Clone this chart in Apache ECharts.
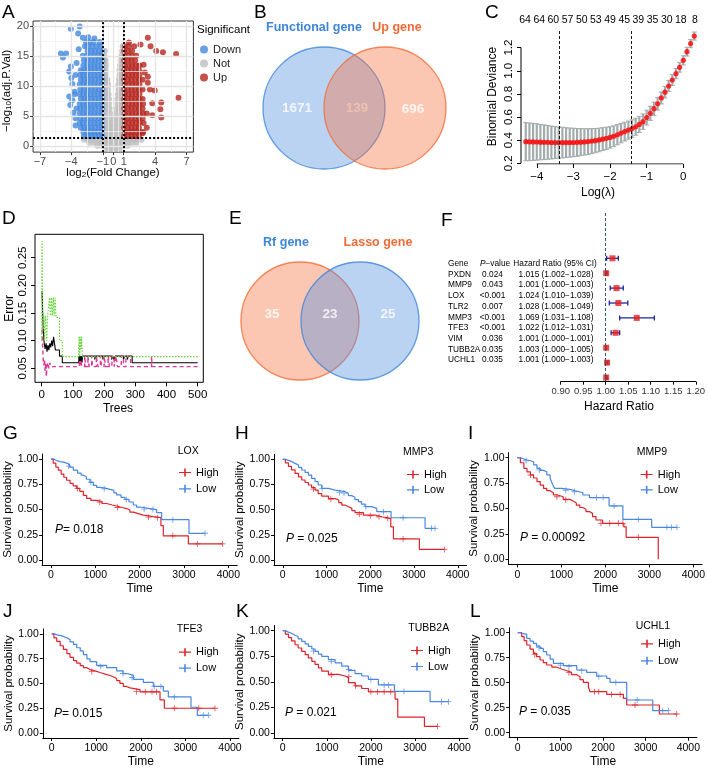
<!DOCTYPE html>
<html><head><meta charset="utf-8">
<script src="https://cdn.jsdelivr.net/npm/echarts@6.0.0/dist/echarts.min.js"></script>
<style>html,body{margin:0;padding:0;background:#fff;}#chart{width:708px;height:769px;}</style>
</head><body><div id="chart"></div>
<script>
/* ================= DATA ================= */
/* A: volcano plot (rows: [-log10 p, [log2FC ...]]) */
const volcanoDownRows = [
 [1.6,[-1.05,-1.4,-1.75,-2.1,-2.45,-2.8]],
 [2.3,[-1.1,-1.45,-1.8,-2.15,-2.5,-2.85]],
 [3.0,[-1.05,-1.4,-1.75,-2.1,-2.45,-2.8,-3.1]],
 [3.8,[-1.1,-1.45,-1.8,-2.15,-2.5,-2.9,-3.2]],
 [4.6,[-1.05,-1.4,-1.75,-2.1,-2.45,-2.8,-3.15,-3.6]],
 [5.4,[-1.1,-1.45,-1.8,-2.15,-2.5,-2.85,-3.2]],
 [6.2,[-1.05,-1.4,-1.75,-2.1,-2.45,-2.8,-3.15,-3.5]],
 [7.0,[-1.1,-1.45,-1.8,-2.15,-2.5,-2.85,-3.2]],
 [7.8,[-1.05,-1.4,-1.75,-2.1,-2.45,-2.8,-3.1]],
 [8.6,[-1.1,-1.45,-1.8,-2.15,-2.5,-2.85,-3.2,-3.7]],
 [9.4,[-1.05,-1.4,-1.75,-2.1,-2.45,-2.8,-3.15]],
 [10.2,[-1.1,-1.45,-1.8,-2.15,-2.5,-2.85,-3.2]],
 [11.0,[-1.05,-1.4,-1.75,-2.1,-2.45,-2.8,-3.1]],
 [11.8,[-1.1,-1.45,-1.8,-2.15,-2.5,-2.85,-3.15]],
 [12.6,[-1.05,-1.4,-1.75,-2.1,-2.45,-2.8,-3.1]],
 [13.4,[-1.1,-1.45,-1.8,-2.15,-2.5,-2.85]],
 [14.2,[-1.05,-1.4,-1.75,-2.1,-2.45,-2.8]],
 [15.0,[-1.1,-1.45,-1.8,-2.15,-2.5,-2.9]],
 [15.8,[-1.05,-1.4,-1.75,-2.1,-2.45]],
 [16.6,[-1.2,-1.6,-2.0,-2.4,-2.7]],
 [17.3,[-1.3,-1.9,-2.3,-2.6]]
];
const volcanoDownExtra = [[-4.05,19.5],[-3.2,19.9],[-3.35,18.7],[-5.0,15.4],[-4.5,15.4],[-4.8,14.7],[-4.05,13.2],[-4.2,12.4],[-4.0,11.3],[-4.2,8.2],[-3.7,9.0],[-3.9,10.3],[-4.1,6.8],[-3.8,5.5],[-3.6,3.4],[-3.9,7.6],[-2.9,18.0],[-2.4,18.1],[-1.8,17.9],[-3.5,13.8],[-3.6,11.8],[-3.3,16.1]];
const volcanoUpRows = [
 [1.6,[1.05,1.4,1.75,2.1,2.45]],
 [2.3,[1.1,1.45,1.8,2.15,2.5,2.85]],
 [3.0,[1.05,1.4,1.75,2.1,2.45]],
 [3.8,[1.1,1.45,1.8,2.15,2.5,2.9]],
 [4.6,[1.05,1.4,1.75,2.1,2.45,2.8]],
 [5.4,[1.1,1.45,1.8,2.15,2.5,2.85,3.2]],
 [6.2,[1.05,1.4,1.75,2.1,2.45,2.8]],
 [7.0,[1.1,1.45,1.8,2.15,2.5,2.85]],
 [7.8,[1.05,1.4,1.75,2.1,2.45,2.8]],
 [8.6,[1.1,1.45,1.8,2.15,2.5]],
 [9.4,[1.05,1.4,1.75,2.1,2.45,2.8]],
 [10.2,[1.1,1.45,1.8,2.15,2.5]],
 [11.0,[1.05,1.4,1.75,2.1,2.45,2.8]],
 [11.8,[1.1,1.45,1.8,2.15,2.5]],
 [12.6,[1.05,1.4,1.75,2.1,2.45]],
 [13.4,[1.1,1.45,1.8,2.15,2.5]],
 [14.2,[1.05,1.4,1.75,2.1]],
 [15.0,[1.1,1.45,1.8,2.2]],
 [15.8,[1.05,1.4,1.8]],
 [16.6,[1.1,1.5,2.0]]
];
const volcanoUpExtra = [[3.3,18.0],[3.56,16.6],[4.1,15.8],[4.74,15.6],[6.0,15.3],[6.23,8.0],[4.58,7.2],[4.5,6.1],[4.58,4.7],[3.73,7.1],[3.73,5.1],[3.96,9.2],[3.5,9.4],[2.9,13.5],[3.0,12.2],[3.3,10.5],[3.2,3.0],[2.8,2.1],[2.6,16.9],[1.5,17.2],[3.3,11.5]];
const volcanoNotRows = [
 [-0.5,[-0.6,-0.3,0,0.3,0.6]],
 [0.0,[-1.5,-1.1,-0.8,-0.5,-0.2,0.1,0.4,0.7,1.0,1.4]],
 [0.5,[-2.3,-1.9,-1.5,-1.1,-0.8,-0.5,-0.2,0.1,0.4,0.7,1.0,1.4,1.8,2.2]],
 [1.0,[-2.8,-2.4,-2.0,-1.6,-1.2,-0.9,-0.6,-0.3,0,0.3,0.6,0.9,1.2,1.6,2.0,2.4,2.7]],
 [1.6,[-0.9,-0.6,-0.3,0,0.3,0.6,0.9]],
 [2.3,[-0.9,-0.6,-0.3,0,0.3,0.6,0.9]],
 [3.0,[-0.9,-0.6,-0.3,0,0.3,0.6,0.9]],
 [3.8,[-0.9,-0.6,-0.3,0,0.3,0.6,0.9]],
 [4.6,[-0.9,-0.6,-0.3,0.05,0.3,0.6,0.9]],
 [5.4,[-0.9,-0.6,-0.3,0.3,0.6,0.9]],
 [6.2,[-0.9,-0.6,-0.35,0.35,0.6,0.9]],
 [7.0,[-0.9,-0.65,-0.4,0.4,0.65,0.9]],
 [7.8,[-0.9,-0.65,-0.4,0.4,0.65,0.9]],
 [8.6,[-0.9,-0.65,-0.45,0.45,0.65,0.9]],
 [9.4,[-0.9,-0.7,-0.5,0.5,0.7,0.9]],
 [10.2,[-0.9,-0.7,-0.5,0.5,0.7,0.9]],
 [11.0,[-0.9,-0.7,-0.55,0.55,0.7,0.9]],
 [11.8,[-0.9,-0.7,0.6,0.8]],
 [12.6,[-0.9,-0.7,0.6,0.85]],
 [13.4,[-0.85,-0.65,0.65,0.85]],
 [14.2,[-0.85,-0.7,0.7,0.9]],
 [15.0,[-0.85,0.8]],
 [15.8,[-0.8,0.85]],
 [16.6,[0.9]]
];
const volcanoXTicks = [-7,-4,-1,0,1,4,7];
const volcanoXMinor = [-5.5,-2.5,-0.5,0.5,2.5,5.5];
const volcanoYTicks = [0,5,10,15,20];
const volcanoYMinor = [2.5,7.5,12.5,17.5];
const volcanoFcCut = [-1,1];
const volcanoPCut = 1.3;

/* B / E: Venn */
const vennBSets = ['Functional gene','Up gene'];
const vennBCounts = [1671,139,696];
const vennESets = ['Rf gene','Lasso gene'];
const vennECounts = [35,23,25];

/* C: LASSO cross-validation */
const lassoLogLambda = [-4.3,-4.2,-4.1,-4.0,-3.9,-3.8,-3.7,-3.6,-3.5,-3.4,-3.3,-3.2,-3.1,-3.0,-2.9,-2.8,-2.7,-2.6,-2.5,-2.4,-2.3,-2.2,-2.1,-2.0,-1.9,-1.8,-1.7,-1.6,-1.5,-1.4,-1.3,-1.2,-1.1,-1.0,-0.9,-0.8,-0.7,-0.6,-0.5,-0.4,-0.3,-0.2,-0.1,0.0,0.1,0.2,0.3];
const lassoMean = [0.387,0.386,0.385,0.384,0.383,0.382,0.381,0.380,0.379,0.379,0.379,0.379,0.379,0.380,0.381,0.383,0.385,0.388,0.392,0.396,0.402,0.409,0.416,0.424,0.434,0.447,0.461,0.474,0.487,0.500,0.516,0.536,0.560,0.595,0.632,0.672,0.715,0.765,0.815,0.868,0.920,0.975,1.030,1.090,1.165,1.235,1.300];
const lassoSE = [0.165,0.163,0.160,0.157,0.153,0.150,0.146,0.142,0.138,0.135,0.132,0.129,0.126,0.123,0.120,0.117,0.114,0.111,0.108,0.105,0.102,0.099,0.096,0.093,0.090,0.087,0.084,0.081,0.078,0.076,0.073,0.070,0.067,0.064,0.061,0.058,0.055,0.052,0.050,0.048,0.046,0.044,0.042,0.040,0.038,0.036,0.035];
const lassoTopPos = [-4.32,-3.93,-3.55,-3.16,-2.77,-2.39,-2.00,-1.61,-1.23,-0.84,-0.45,-0.07,0.32];
const lassoTopNz = [64,64,60,57,50,53,49,45,39,35,30,18,8];
const lassoVLines = [-3.38,-1.41];
const lassoXTicks = [-4,-3,-2,-1,0];
const lassoYTicks = [0.2,0.4,0.6,0.8,1.0,1.2];

/* D: random forest error vs trees */
const rfOOB = [[1,0.19],[3,0.15],[5,0.12],[8,0.095],[11,0.085],[14,0.095],[17,0.08],[20,0.092],[23,0.083],[26,0.095],[29,0.088],[32,0.1],[35,0.09],[38,0.107],[41,0.095],[44,0.083],[57,0.072],[66,0.06],[119,0.072],[121,0.06],[123,0.072],[125,0.06],[127,0.072],[129,0.06],[131,0.072],[170,0.066],[172,0.072],[196,0.066],[198,0.072],[224,0.066],[228,0.072],[232,0.066],[236,0.072],[262,0.066],[266,0.072],[274,0.066],[278,0.072],[290,0.06],[500,0.06]];
const rfClass1 = [[1,0.12],[3,0.09],[5,0.065],[7,0.055],[9,0.065],[11,0.045],[13,0.06],[15,0.035],[17,0.055],[20,0.06],[23,0.05],[26,0.06],[30,0.053],[120,0.053],[122,0.065],[124,0.053],[126,0.065],[128,0.053],[138,0.072],[141,0.053],[148,0.072],[152,0.053],[160,0.072],[163,0.053],[175,0.072],[180,0.053],[188,0.072],[192,0.053],[200,0.072],[205,0.053],[213,0.072],[217,0.053],[225,0.072],[232,0.053],[238,0.072],[243,0.053],[255,0.072],[262,0.053],[270,0.072],[285,0.053],[352,0.072],[354,0.053],[500,0.053]];
const rfClass2 = [[0,0.1],[1,0.28],[3,0.15],[5,0.12],[7,0.145],[9,0.1],[12,0.145],[16,0.1],[19,0.145],[25,0.178],[28,0.145],[31,0.178],[34,0.145],[37,0.178],[40,0.145],[43,0.178],[46,0.142],[57,0.1],[66,0.071],[118,0.071],[120,0.107],[122,0.071],[124,0.107],[126,0.085],[128,0.107],[130,0.071],[500,0.071]];
const rfXTicks = [0,100,200,300,400,500];
const rfYTicks = [0.05,0.10,0.15,0.20,0.25];

/* F: forest plot */
const forestGenes = ['PXDN','MMP9','LOX','TLR2','MMP3','TFE3','VIM','TUBB2A','UCHL1'];
const forestP = ['0.024','0.043','<0.001','0.007','<0.001','<0.001','0.036','0.035','0.035'];
const forestHR = [1.015,1.001,1.024,1.028,1.069,1.022,1.001,1.003,1.001];
const forestLo = [1.002,1.000,1.010,1.008,1.031,1.012,1.000,1.000,1.000];
const forestHi = [1.028,1.003,1.039,1.049,1.108,1.031,1.001,1.005,1.003];

/* G-L: Kaplan-Meier curves [time, survival] */
const kmGenes = ['LOX','MMP3','MMP9','TFE3','TUBB2A','UCHL1'];
const kmP = ['0.018','0.025','0.00092','0.015','0.021','0.035'];
const kmLOXHigh = [[0,1],[50,0.96],[110,0.92],[165,0.89],[230,0.85],[290,0.82],[353,0.79],[430,0.76],[500,0.735],[579,0.71],[650,0.68],[730,0.64],[805,0.61],[900,0.59],[1030,0.58],[1150,0.56],[1256,0.545],[1380,0.535],[1481,0.52],[1600,0.51],[1707,0.495],[1780,0.475],[1857,0.46],[1970,0.445],[2083,0.43],[2308,0.42],[2480,0.34],[2534,0.24],[3098,0.16],[3872,0.16]];
const kmLOXLow = [[0,1],[60,0.985],[130,0.975],[203,0.97],[280,0.96],[353,0.945],[420,0.92],[504,0.89],[600,0.86],[680,0.84],[729,0.825],[800,0.8],[880,0.77],[955,0.74],[1030,0.72],[1105,0.71],[1250,0.7],[1331,0.69],[1420,0.665],[1481,0.645],[1580,0.62],[1669,0.6],[1760,0.575],[1857,0.545],[1930,0.525],[2008,0.51],[2233,0.5],[2383,0.47],[2496,0.40],[3113,0.265],[3474,0.265]];
const kmLOXHighCens = [[600,0.71],[1100,0.575],[1500,0.52],[2200,0.425],[2400,0.42],[2750,0.24],[3300,0.16],[3872,0.16]];
const kmLOXLowCens = [[400,0.93],[900,0.77],[1200,0.705],[1700,0.6],[2100,0.505],[2300,0.5],[2750,0.4],[3474,0.265]];
const kmMMP3High = [[0,1],[60,0.965],[130,0.93],[200,0.895],[282,0.86],[360,0.825],[434,0.795],[510,0.77],[587,0.745],[660,0.72],[739,0.695],[810,0.66],[891,0.635],[1044,0.61],[1196,0.596],[1280,0.57],[1349,0.546],[1420,0.53],[1501,0.513],[1580,0.49],[1653,0.47],[1844,0.447],[2110,0.43],[2263,0.414],[2469,0.33],[2530,0.21],[3124,0.106],[3695,0.106]];
const kmMMP3Low = [[0,1],[70,0.99],[130,0.977],[210,0.96],[282,0.944],[360,0.92],[434,0.894],[510,0.87],[587,0.844],[660,0.81],[739,0.778],[810,0.745],[891,0.712],[1044,0.695],[1196,0.679],[1425,0.662],[1500,0.64],[1577,0.623],[1650,0.6],[1730,0.58],[1800,0.555],[1882,0.53],[2034,0.513],[2149,0.48],[2476,0.42],[3253,0.315],[3482,0.315]];
const kmMMP3HighCens = [[700,0.705],[1100,0.605],[1750,0.455],[2000,0.44],[2200,0.43],[2400,0.414],[2750,0.21],[3695,0.106]];
const kmMMP3LowCens = [[900,0.712],[1300,0.67],[1400,0.665],[1900,0.53],[2300,0.48],[2750,0.42],[3400,0.315],[3482,0.315]];
const kmMMP9High = [[0,1],[70,0.95],[149,0.895],[220,0.86],[298,0.83],[370,0.8],[447,0.764],[520,0.73],[596,0.698],[670,0.675],[745,0.656],[820,0.635],[894,0.616],[1043,0.59],[1192,0.574],[1270,0.555],[1341,0.534],[1420,0.51],[1490,0.492],[1560,0.47],[1639,0.452],[1710,0.42],[1788,0.387],[1937,0.354],[2421,0.32],[2473,0.216],[3203,0]];
const kmMMP9Low = [[0,1],[70,0.985],[160,0.977],[230,0.97],[298,0.96],[370,0.93],[447,0.895],[520,0.875],[596,0.862],[670,0.83],[745,0.797],[780,0.76],[819,0.72],[850,0.698],[1000,0.688],[1192,0.672],[1340,0.655],[1490,0.633],[1639,0.607],[2086,0.525],[2399,0.393],[3054,0.315],[3628,0.315]];
const kmMMP9HighCens = [[300,0.83],[900,0.616],[1100,0.585],[1900,0.354],[2100,0.354],[2300,0.354],[2400,0.354],[2750,0.216]];
const kmMMP9LowCens = [[200,0.97],[500,0.88],[1100,0.68],[1300,0.665],[1800,0.607],[1950,0.607],[2200,0.525],[2750,0.393],[3400,0.315],[3500,0.315],[3628,0.315]];
const kmTFE3High = [[0,1],[50,0.96],[112,0.925],[190,0.88],[262,0.844],[340,0.8],[411,0.763],[490,0.73],[561,0.705],[640,0.68],[710,0.659],[790,0.64],[860,0.627],[970,0.61],[1084,0.594],[1200,0.58],[1308,0.568],[1380,0.55],[1458,0.529],[1530,0.5],[1607,0.47],[1680,0.455],[1757,0.438],[1981,0.416],[2430,0.334],[2527,0.25],[3664,0.25]];
const kmTFE3Low = [[0,1],[60,0.99],[112,0.985],[190,0.974],[262,0.96],[340,0.942],[411,0.92],[490,0.893],[561,0.86],[640,0.828],[710,0.79],[790,0.747],[860,0.72],[1009,0.682],[1234,0.659],[1458,0.627],[1600,0.6],[1682,0.584],[1832,0.542],[2056,0.51],[2280,0.47],[2505,0.422],[2617,0.364],[3125,0.26],[3267,0.179],[3514,0.179]];
const kmTFE3HighCens = [[900,0.62],[1900,0.42],[2100,0.416],[2250,0.416],[2350,0.416],[2750,0.25],[3300,0.25],[3664,0.25]];
const kmTFE3LowCens = [[1100,0.67],[1600,0.6],[1800,0.56],[2300,0.47],[2450,0.47],[2750,0.364],[3400,0.179],[3514,0.179]];
const kmTUBB2AHigh = [[0,1],[60,0.965],[129,0.932],[200,0.9],[280,0.862],[350,0.83],[431,0.797],[510,0.765],[582,0.733],[660,0.7],[733,0.669],[810,0.635],[885,0.604],[1036,0.572],[1263,0.556],[1414,0.54],[1490,0.492],[1641,0.46],[1792,0.434],[1943,0.402],[2548,0.331],[2609,0.154],[3214,0.064],[3509,0.064]];
const kmTUBB2ALow = [[0,1],[70,0.985],[129,0.974],[200,0.955],[280,0.942],[350,0.92],[431,0.894],[510,0.87],[582,0.846],[660,0.82],[733,0.797],[810,0.77],[885,0.749],[1036,0.717],[1187,0.685],[1338,0.653],[1490,0.611],[1641,0.579],[1792,0.556],[1943,0.524],[2170,0.469],[2533,0.405],[3342,0.305],[3758,0.305]];
const kmTUBB2AHighCens = [[1100,0.565],[1500,0.55],[1650,0.46],[2000,0.402],[2150,0.402],[2300,0.402],[2450,0.402],[3509,0.064]];
const kmTUBB2ALowCens = [[700,0.8],[1100,0.7],[1500,0.62],[2000,0.52],[2300,0.469],[2400,0.469],[2750,0.405],[3600,0.305],[3758,0.305]];
const kmUCHL1High = [[0,1],[94,0.96],[150,0.92],[211,0.877],[290,0.835],[367,0.793],[440,0.76],[523,0.727],[600,0.7],[680,0.677],[800,0.655],[914,0.637],[1030,0.62],[1148,0.603],[1260,0.58],[1383,0.56],[1460,0.53],[1539,0.503],[1656,0.46],[1695,0.41],[2086,0.383],[2477,0.343],[2555,0.277],[3320,0.187],[3727,0.187]];
const kmUCHL1Low = [[0,1],[60,0.99],[130,0.983],[211,0.943],[290,0.915],[367,0.893],[440,0.865],[523,0.843],[600,0.81],[680,0.777],[760,0.735],[836,0.693],[1070,0.67],[1383,0.627],[1617,0.603],[1852,0.567],[2086,0.543],[2164,0.503],[2555,0.327],[3164,0.22],[3531,0.22]];
const kmUCHL1HighCens = [[400,0.78],[1200,0.6],[1800,0.41],[1900,0.41],[2200,0.383],[2400,0.383],[2750,0.277],[3727,0.187]];
const kmUCHL1LowCens = [[500,0.85],[1000,0.675],[1200,0.66],[1500,0.62],[1900,0.56],[2300,0.503],[2800,0.327],[3400,0.22],[3531,0.22]];
const kmXTicks = [0,1000,2000,3000,4000];
const kmYTicks = [0,0.25,0.5,0.75,1];

/* ================= BUILD ================= */
const FONT = '"Liberation Sans", Arial, Helvetica, sans-serif';
const grids = [], xAxes = [], yAxes = [], series = [], graphics = [], legends = [];
function fixAxis(a) {
  a.axisLine = Object.assign({show:false}, a.axisLine || {}, {onZero:false});
  return a;
}
function cart(g, x, y) {
  const gi = grids.length;
  grids.push(Object.assign({show:false}, g));
  xAxes.push(fixAxis(Object.assign({gridIndex: gi, type:'value', position:'bottom', splitLine:{show:false}}, x)));
  yAxes.push(fixAxis(Object.assign({gridIndex: gi, type:'value', position:'left', splitLine:{show:false}}, y)));
  return {x: xAxes.length - 1, y: yAxes.length - 1, g: gi};
}
function txt(x, y, text, st, extra) {
  graphics.push(Object.assign({type:'text', x:x, y:y, silent:true,
    style:Object.assign({text:text, fill:'#000', fontFamily:FONT, fontSize:11, textAlign:'left', textVerticalAlign:'middle'}, st || {})}, extra || {}));
}
function rows(r){ const o=[]; r.forEach(function(q){ q[1].forEach(function(x){ o.push([x,q[0]]); }); }); return o; }
const minus = function(v){ return v < 0 ? '\u2212' + Math.abs(v) : String(v); };
const plain = function(v){ return String(v); };
const hidden = {show:false};
function segment(c, pts) {
  series.push({type:'line', name:'axisSeg'+series.length, xAxisIndex:c.x, yAxisIndex:c.y, data:pts, symbol:'none', silent:true, z:6,
    lineStyle:{color:'#000', width:1}});
}

/* ---------- A ---------- */
(function(){
  const c = cart({left:33.1, top:21, width:160.3, height:131.1, show:true, borderColor:'#333', borderWidth:1},
    {min:-7.65, max:7.65, axisTick:{show:true, length:3, lineStyle:{color:'#333'}, customValues:volcanoXTicks},
     axisLabel:{customValues:volcanoXTicks, formatter:minus, color:'#4d4d4d', fontSize:11, margin:4}},
    {min:-1.05, max:20.8, axisTick:{show:true, length:3, lineStyle:{color:'#333'}, customValues:volcanoYTicks},
     axisLabel:{customValues:volcanoYTicks, formatter:plain, color:'#4d4d4d', fontSize:11, margin:4}});
  const gl = [];
  volcanoXTicks.forEach(function(v){ gl.push({xAxis:v, lineStyle:{color:'#e4e4e4', width:1.3, type:'solid'}}); });
  volcanoXMinor.forEach(function(v){ gl.push({xAxis:v, lineStyle:{color:'#efefef', width:0.7, type:'solid'}}); });
  volcanoYTicks.forEach(function(v){ gl.push({yAxis:v, lineStyle:{color:'#e4e4e4', width:1.3, type:'solid'}}); });
  volcanoYMinor.forEach(function(v){ gl.push({yAxis:v, lineStyle:{color:'#efefef', width:0.7, type:'solid'}}); });
  series.push({type:'scatter', name:'gridA', xAxisIndex:c.x, yAxisIndex:c.y, data:[[0,-5]], symbolSize:0, silent:true, z:1,
    markLine:{silent:true, symbol:['none','none'], label:{show:false}, data:gl, animation:false}});
  series.push({type:'scatter', name:'Not', xAxisIndex:c.x, yAxisIndex:c.y, data:rows(volcanoNotRows), symbolSize:6, itemStyle:{color:'#bebebe'}, z:2});
  series.push({type:'scatter', name:'Down', xAxisIndex:c.x, yAxisIndex:c.y, data:rows(volcanoDownRows).concat(volcanoDownExtra), symbolSize:6, itemStyle:{color:'#4388de'}, z:3});
  series.push({type:'scatter', name:'Up', xAxisIndex:c.x, yAxisIndex:c.y, data:rows(volcanoUpRows).concat(volcanoUpExtra), symbolSize:6, itemStyle:{color:'#b5261e'}, z:3});
  const cut = volcanoFcCut.map(function(v){ return {xAxis:v}; }).concat([{yAxis:volcanoPCut}]);
  series.push({type:'scatter', name:'cutA', xAxisIndex:c.x, yAxisIndex:c.y, data:[[0,-5]], symbolSize:0, silent:true, z:6,
    markLine:{silent:true, symbol:['none','none'], label:{show:false}, lineStyle:{color:'#000', width:2, type:[2,2]}, data:cut, animation:false}});
  txt(113, 173, 'log{s|2}(Fold Change)', {textAlign:'center', fontSize:11.5, fill:'#000', rich:{s:{fontSize:8, fontFamily:FONT, padding:[3,0,0,0]}}});
  // rotated y title, anchored at its start (bottom end)
  txt(7, 132, '\u2212log{s|10}(adj.P.Val)', {textAlign:'left', fontSize:11.5, rich:{s:{fontSize:8, fontFamily:FONT, padding:[3,0,0,0]}}}, {rotation:Math.PI/2});
  txt(197, 30, 'Significant', {fontSize:11.5});
  legends.push({left:195, top:39, orient:'vertical', itemWidth:8, itemHeight:12, itemGap:3, selectedMode:false,
    data:[{name:'Down', icon:'circle'},{name:'Not', icon:'circle'},{name:'Up', icon:'circle'}],
    textStyle:{fontSize:11, color:'#222', fontFamily:FONT}});
})();

/* ---------- Venn helper ---------- */
function venn(gLeft, gTop, circles, counts, labelPos, labelColors, titles, titlePos, titleColors) {
  const c = cart({left:gLeft, top:gTop, width:240, height:200},
    {min:0, max:240, show:false}, {min:0, max:200, inverse:true, show:false});
  circles.forEach(function(cc, i){
    series.push({type:'scatter', name:'venn'+gLeft+'_'+gTop+'_'+i, xAxisIndex:c.x, yAxisIndex:c.y, silent:true, z:2+i,
      data:[[cc.x, cc.y]], symbol:'circle', symbolSize:cc.d,
      itemStyle:{color:cc.fill, borderColor:cc.stroke, borderWidth:1.3}});
  });
  series.push({type:'scatter', name:'vennLab'+gLeft+'_'+gTop, xAxisIndex:c.x, yAxisIndex:c.y, silent:true, z:10, symbolSize:0,
    data:counts.map(function(n, i){ return {value:labelPos[i], label:{show:true, position:'inside', formatter:String(n),
      color:labelColors[i], fontSize:13.5, fontWeight:'bold', fontFamily:FONT}}; })});
  titles.forEach(function(t, i){ txt(gLeft + titlePos[i][0], gTop + titlePos[i][1], t, {textAlign:'center', fontSize:12.5, fontWeight:'bold', fill:titleColors[i]}); });
}
const BLUE_V = 'rgba(85,145,225,0.5)', ORANGE_V = 'rgba(245,115,65,0.5)', BLUE_S = '#3d85d8', ORANGE_S = '#f26b36';
venn(230, 0,
  [{x:94, y:108, d:122, fill:BLUE_V, stroke:BLUE_S}, {x:155, y:108, d:122, fill:ORANGE_V, stroke:ORANGE_S}],
  vennBCounts, [[67,108],[127,108],[183,109]], ['#fff','#f6c6b2','#fff'],
  vennBSets, [[84,28],[167,28]], [BLUE_S, ORANGE_S]);
venn(230, 205,
  [{x:70, y:116, d:118, fill:ORANGE_V, stroke:ORANGE_S}, {x:130, y:116, d:118, fill:BLUE_V, stroke:BLUE_S}],
  vennECounts, [[42,109],[100,109],[158,109]], ['#fff','#fff','#fff'],
  vennESets, [[56,38],[148,38]], [BLUE_S, ORANGE_S]);

/* ---------- C: LASSO ---------- */
(function(){
  const c = cart({left:521, top:29, width:181, height:135},
    {min:-4.43, max:0.51, axisTick:{show:true, length:4, lineStyle:{color:'#000'}, customValues:lassoXTicks},
     axisLabel:{customValues:lassoXTicks, formatter:minus, color:'#000', fontSize:11.5, margin:7}},
    {min:0.194, max:1.361, axisTick:{show:true, length:4, lineStyle:{color:'#000'}, customValues:lassoYTicks},
     axisLabel:{customValues:lassoYTicks, formatter:function(v){return v.toFixed(1);}, rotate:90, color:'#000', fontSize:11.5, margin:6},
     name:'Binomial Deviance', nameLocation:'middle', nameGap:22, nameTextStyle:{fontSize:12, color:'#000', fontFamily:FONT}});
  xAxes.push(fixAxis({gridIndex:c.g, type:'value', position:'top', min:-4.43, max:0.51, axisTick:hidden, splitLine:hidden,
    axisLabel:{customValues:lassoTopPos, color:'#000', fontSize:10.5, margin:3, formatter:function(v){
      let bi=0, bd=1e9; lassoTopPos.forEach(function(p,i){ const d=Math.abs(p-v); if(d<bd){bd=d;bi=i;} }); return String(lassoTopNz[bi]); }}}));
  const eb = lassoLogLambda.map(function(l,i){ return [l, lassoMean[i]-lassoSE[i], lassoMean[i]+lassoSE[i]]; });
  series.push({type:'custom', name:'lassoSE', xAxisIndex:c.x, yAxisIndex:c.y, silent:true, z:2, data:eb, encode:{x:0, y:[1,2]},
    renderItem:function(p, api){
      const a = api.coord([api.value(0), api.value(1)]), b = api.coord([api.value(0), api.value(2)]);
      const st = {stroke:'#a3acac', lineWidth:2.2};
      return {type:'group', children:[
        {type:'line', shape:{x1:a[0], y1:a[1], x2:b[0], y2:b[1]}, style:st},
        {type:'line', shape:{x1:a[0]-2.5, y1:a[1], x2:a[0]+2.5, y2:a[1]}, style:{stroke:'#a3acac', lineWidth:1}},
        {type:'line', shape:{x1:b[0]-2.5, y1:b[1], x2:b[0]+2.5, y2:b[1]}, style:{stroke:'#a3acac', lineWidth:1}}]};
    }});
  series.push({type:'scatter', name:'lassoMean', xAxisIndex:c.x, yAxisIndex:c.y, silent:true, z:4, symbolSize:5.2,
    data:lassoLogLambda.map(function(l,i){ return [l, lassoMean[i]]; }), itemStyle:{color:'#ff0000'},
    markLine:{silent:true, symbol:['none','none'], label:{show:false}, animation:false,
      data:lassoVLines.map(function(v){ return {xAxis:v, lineStyle:{color:'#000', width:0.9, type:[3,2]}}; })}});
  segment(c, [[lassoXTicks[0],0.194],[lassoXTicks[lassoXTicks.length-1],0.194]]);
  segment(c, [[-4.43,lassoYTicks[0]],[-4.43,lassoYTicks[lassoYTicks.length-1]]]);
  txt(598, 193, 'Log(\u03bb)', {textAlign:'center', fontSize:12});
})();

/* ---------- D: random forest ---------- */
(function(){
  const c = cart({left:35, top:234.3, width:168.3, height:148, show:true, borderColor:'#000', borderWidth:1},
    {min:-21.5, max:518, axisTick:{show:true, length:4, lineStyle:{color:'#000'}, customValues:rfXTicks},
     axisLabel:{customValues:rfXTicks, formatter:plain, color:'#000', fontSize:11.5, margin:7}},
    {min:0.0247, max:0.2923, axisTick:{show:true, length:4, lineStyle:{color:'#000'}, customValues:rfYTicks},
     axisLabel:{customValues:rfYTicks, rotate:90, formatter:function(v){return v.toFixed(2);}, color:'#000', fontSize:11.5, margin:6},
     name:'Error', nameLocation:'middle', nameGap:19, nameTextStyle:{fontSize:12, color:'#000', fontFamily:FONT}});
  series.push({type:'line', name:'rfOOB', xAxisIndex:c.x, yAxisIndex:c.y, data:rfOOB, step:'end', symbol:'none', silent:true, z:3, lineStyle:{color:'#000', width:1.1}});
  series.push({type:'line', name:'rfC1', xAxisIndex:c.x, yAxisIndex:c.y, data:rfClass1, step:'end', symbol:'none', silent:true, z:4, lineStyle:{color:'#e0389a', width:1.4, type:[4,3]}});
  series.push({type:'line', name:'rfC2', xAxisIndex:c.x, yAxisIndex:c.y, data:rfClass2, step:'end', symbol:'none', silent:true, z:5, lineStyle:{color:'#6bd63c', width:1.2, type:[1.5,1.5]}});
  txt(118, 409, 'Trees', {textAlign:'center', fontSize:12});
})();

/* ---------- F: forest plot ---------- */
(function(){
  const c = cart({left:560.7, top:213, width:142, height:168.7},
    {min:0.9, max:1.2, interval:0.05, axisLine:{show:true, lineStyle:{color:'#000', width:1}},
     axisTick:{show:true, length:3, lineStyle:{color:'#000'}},
     axisLabel:{formatter:function(v){return v.toFixed(2);}, color:'#333', fontSize:9.5, margin:5}},
    {min:-2.04, max:9.28, inverse:true, show:false});
  series.push({type:'custom', name:'forestCI', xAxisIndex:c.x, yAxisIndex:c.y, silent:true, z:3,
    data:forestHR.map(function(h,i){ return [forestLo[i], forestHi[i], i+1]; }), encode:{x:[0,1], y:2},
    renderItem:function(p, api){
      const a = api.coord([api.value(0), api.value(2)]), b = api.coord([api.value(1), api.value(2)]);
      const st = {stroke:'#1f23a0', lineWidth:1.3};
      return {type:'group', children:[
        {type:'line', shape:{x1:a[0], y1:a[1], x2:b[0], y2:b[1]}, style:st},
        {type:'line', shape:{x1:a[0], y1:a[1]-2.5, x2:a[0], y2:a[1]+2.5}, style:st},
        {type:'line', shape:{x1:b[0], y1:b[1]-2.5, x2:b[0], y2:b[1]+2.5}, style:st}]};
    }});
  series.push({type:'scatter', name:'forestHR', xAxisIndex:c.x, yAxisIndex:c.y, silent:true, z:4, symbol:'rect', symbolSize:6,
    data:forestHR.map(function(h,i){ return [h, i+1]; }), itemStyle:{color:'#e3211c'},
    markLine:{silent:true, symbol:['none','none'], label:{show:false}, animation:false,
      lineStyle:{color:'#2f5d62', width:1, type:[3,2]}, data:[{xAxis:1}]}});
  txt(619, 407, 'Hazard Ratio', {textAlign:'center', fontSize:12});
  const fs = 8.3;
  txt(448, 263.7, 'Gene', {fontSize:fs});
  txt(495, 263.7, '{i|P}\u2212value', {fontSize:fs, textAlign:'center', rich:{i:{fontStyle:'italic', fontSize:fs, fontFamily:FONT}}});
  txt(555, 263.7, 'Hazard Ratio (95% CI)', {fontSize:fs, textAlign:'center'});
  forestGenes.forEach(function(g, i){
    const y = 274.3 + i*10.73;
    txt(448, y, g, {fontSize:fs});
    txt(492.5, y, forestP[i], {fontSize:fs, textAlign:'center'});
    txt(556, y, forestHR[i].toFixed(3)+' ('+forestLo[i].toFixed(3)+'\u2212'+forestHi[i].toFixed(3)+')', {fontSize:fs, textAlign:'center'});
  });
})();

/* ---------- G-L: Kaplan-Meier ---------- */
const RED_KM = '#e0232b', BLUE_KM = '#4a86e3';
const PLUS = 'path://M0,4.3H10V5.7H0Z M4.3,0H5.7V10H4.3Z';
const LEG_ICON = 'path://M0,4.4H12V5.6H0Z M5.2,1H6.8V9H5.2Z';
const kmHigh = [kmLOXHigh, kmMMP3High, kmMMP9High, kmTFE3High, kmTUBB2AHigh, kmUCHL1High];
const kmLow = [kmLOXLow, kmMMP3Low, kmMMP9Low, kmTFE3Low, kmTUBB2ALow, kmUCHL1Low];
const kmHighCens = [kmLOXHighCens, kmMMP3HighCens, kmMMP9HighCens, kmTFE3HighCens, kmTUBB2AHighCens, kmUCHL1HighCens];
const kmLowCens = [kmLOXLowCens, kmMMP3LowCens, kmMMP9LowCens, kmTFE3LowCens, kmTUBB2ALowCens, kmUCHL1LowCens];
const kmLayout = [
  {left:42.1, top:454, w:195.1, h:111.1, tx:177.7, ty:451, lx:174, ly:462, gap:5.3, px:55, py:530, sep:'= '},
  {left:274, top:454.3, w:192.5, h:110.8, tx:403, ty:452.3, lx:402, ly:464, gap:4.3, px:286, py:539, sep:' = '},
  {left:508.5, top:452.6, w:195.4, h:111.8, tx:636.7, ty:452.3, lx:635.7, ly:464, gap:4.3, px:520, py:538, sep:' = '},
  {left:42.8, top:628.9, w:196.1, h:113, tx:176.7, ty:629.3, lx:174, ly:641.7, gap:5, px:54, py:714, sep:'= '},
  {left:273.9, top:625.5, w:194, h:114, tx:408.3, ty:628.3, lx:406, ly:640, gap:5, px:285, py:713, sep:' = '},
  {left:509.2, top:627.7, w:187.7, h:110, tx:635.7, ty:625.7, lx:636, ly:633.3, gap:6, px:519, py:712, sep:' = '}
];
kmGenes.forEach(function(gene, k){
  const L = kmLayout[k];
  const c = cart({left:L.left, top:L.top, width:L.w, height:L.h},
    {min:-200, max:4200, axisLine:{show:true, lineStyle:{color:'#000', width:1}},
     axisTick:{show:true, length:3, lineStyle:{color:'#000'}, customValues:kmXTicks},
     axisLabel:{customValues:kmXTicks, formatter:plain, color:'#000', fontSize:10.5, margin:5},
     name:'Time', nameLocation:'middle', nameGap:18, nameTextStyle:{fontSize:12, color:'#000', fontFamily:FONT}},
    {min:-0.05, max:1.05, axisLine:{show:true, lineStyle:{color:'#000', width:1}},
     axisTick:{show:true, length:3, lineStyle:{color:'#000'}, customValues:kmYTicks},
     axisLabel:{customValues:kmYTicks, formatter:function(v){return v.toFixed(2);}, color:'#000', fontSize:10.5, margin:4},
     name:'Survival probability', nameLocation:'middle', nameGap:28, nameTextStyle:{fontSize:11.5, color:'#000', fontFamily:FONT}});
  series.push({type:'line', name:'High', xAxisIndex:c.x, yAxisIndex:c.y, data:kmHigh[k], step:'end', symbol:'none', silent:true, z:3,
    lineStyle:{color:RED_KM, width:1.2}, itemStyle:{color:RED_KM}});
  series.push({type:'line', name:'Low', xAxisIndex:c.x, yAxisIndex:c.y, data:kmLow[k], step:'end', symbol:'none', silent:true, z:3,
    lineStyle:{color:BLUE_KM, width:1.2}, itemStyle:{color:BLUE_KM}});
  series.push({type:'scatter', name:'High censor '+k, xAxisIndex:c.x, yAxisIndex:c.y, data:kmHighCens[k], symbol:PLUS, symbolSize:6, silent:true, z:4, itemStyle:{color:RED_KM}});
  series.push({type:'scatter', name:'Low censor '+k, xAxisIndex:c.x, yAxisIndex:c.y, data:kmLowCens[k], symbol:PLUS, symbolSize:6, silent:true, z:4, itemStyle:{color:BLUE_KM}});
  txt(L.tx, L.ty, gene, {fontSize:10.5});
  txt(L.px, L.py, '{i|P}' + L.sep + kmP[k], {fontSize:12, rich:{i:{fontStyle:'italic', fontSize:12, fontFamily:FONT}}});
  legends.push({left:L.lx, top:L.ly, orient:'vertical', itemWidth:12, itemHeight:10, itemGap:L.gap, selectedMode:false,
    data:[{name:'High', icon:LEG_ICON},{name:'Low', icon:LEG_ICON}], textStyle:{fontSize:11, color:'#000', fontFamily:FONT}});
});

/* ---------- panel letters ---------- */
[['A',2,13],['B',254,13],['C',485,13],['D',2,219],['E',229,219],['F',441,221],
 ['G',3,434],['H',235,434],['I',468,434],['J',3,612],['K',236,612],['L',470,612]].forEach(function(p){
  txt(p[1], p[2], p[0], {fontSize:19});
});

const chart = echarts.init(document.getElementById('chart'), null, {renderer:'canvas'});
chart.setOption({animation:false, backgroundColor:'#fff', textStyle:{fontFamily:FONT},
  grid:grids, xAxis:xAxes, yAxis:yAxes, series:series, graphic:graphics, legend:legends});
</script></body></html>
